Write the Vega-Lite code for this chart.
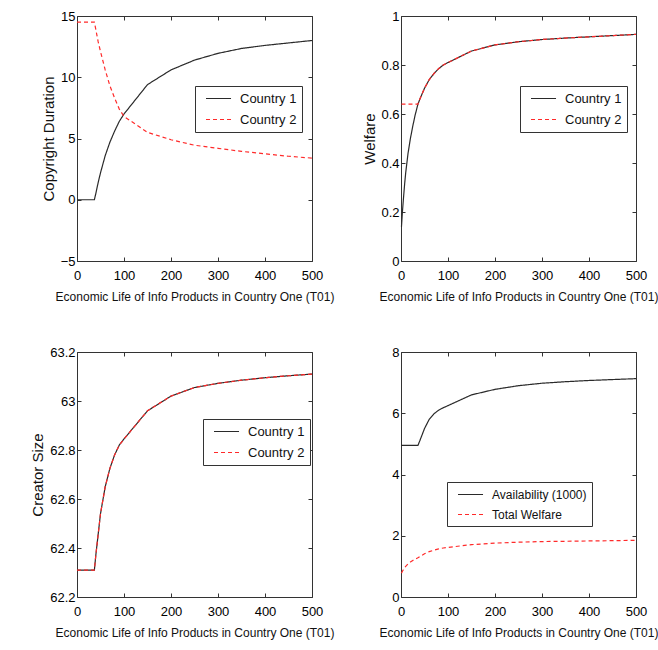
{
  "$schema": "https://vega.github.io/schema/vega-lite/v6.json",
  "background": "white",
  "padding": {"left": 30, "top": 9, "right": 5, "bottom": 5},
  "bounds": "flush",
  "config": {
    "font": "Liberation Sans",
    "view": {"stroke": "#333333", "strokeWidth": 1},
    "axis": {
      "grid": false,
      "domain": false,
      "tickSize": -4,
      "tickColor": "#333333",
      "labelFontSize": 13,
      "labelColor": "#000000",
      "titleFontSize": 15,
      "titleFontWeight": "normal",
      "titleColor": "#111111",
      "labelFlush": false,
      "labelOverlap": false
    },
    "axisX": {"titleFontSize": 12, "titlePadding": 9, "labelPadding": 12},
    "axisY": {"labelPadding": 6},
    "legend": {
      "orient": "none",
      "strokeColor": "#333333",
      "fillColor": "white",
      "padding": 5,
      "symbolType": "M-0.23,0H3.62",
      "symbolSize": 169,
      "symbolStrokeWidth": 1.4,
      "labelFontSize": 13,
      "labelColor": "#111111",
      "rowPadding": 6,
      "labelOffset": 25
    },
    "line": {"strokeWidth": 1.2}
  },
  "datasets": {
    "copyright": [
      {"T01": 0, "country": "Country 1", "value": 0},
      {"T01": 10, "country": "Country 1", "value": 0},
      {"T01": 20, "country": "Country 1", "value": 0},
      {"T01": 30, "country": "Country 1", "value": 0},
      {"T01": 37, "country": "Country 1", "value": 0},
      {"T01": 40, "country": "Country 1", "value": 0.5},
      {"T01": 45, "country": "Country 1", "value": 1.4},
      {"T01": 50, "country": "Country 1", "value": 2.2},
      {"T01": 60, "country": "Country 1", "value": 3.6},
      {"T01": 70, "country": "Country 1", "value": 4.7},
      {"T01": 80, "country": "Country 1", "value": 5.6},
      {"T01": 90, "country": "Country 1", "value": 6.4},
      {"T01": 100, "country": "Country 1", "value": 7.0},
      {"T01": 150, "country": "Country 1", "value": 9.4},
      {"T01": 200, "country": "Country 1", "value": 10.6},
      {"T01": 250, "country": "Country 1", "value": 11.4},
      {"T01": 300, "country": "Country 1", "value": 11.95},
      {"T01": 350, "country": "Country 1", "value": 12.35},
      {"T01": 400, "country": "Country 1", "value": 12.6},
      {"T01": 450, "country": "Country 1", "value": 12.8},
      {"T01": 500, "country": "Country 1", "value": 13.0},
      {"T01": 0, "country": "Country 2", "value": 14.5},
      {"T01": 10, "country": "Country 2", "value": 14.5},
      {"T01": 20, "country": "Country 2", "value": 14.5},
      {"T01": 30, "country": "Country 2", "value": 14.5},
      {"T01": 37, "country": "Country 2", "value": 14.5},
      {"T01": 40, "country": "Country 2", "value": 13.9},
      {"T01": 45, "country": "Country 2", "value": 12.9},
      {"T01": 50, "country": "Country 2", "value": 12.1},
      {"T01": 60, "country": "Country 2", "value": 10.6},
      {"T01": 70, "country": "Country 2", "value": 9.3},
      {"T01": 80, "country": "Country 2", "value": 8.3},
      {"T01": 90, "country": "Country 2", "value": 7.4},
      {"T01": 100, "country": "Country 2", "value": 6.8},
      {"T01": 150, "country": "Country 2", "value": 5.5},
      {"T01": 200, "country": "Country 2", "value": 4.9},
      {"T01": 250, "country": "Country 2", "value": 4.45},
      {"T01": 300, "country": "Country 2", "value": 4.2},
      {"T01": 350, "country": "Country 2", "value": 3.95},
      {"T01": 400, "country": "Country 2", "value": 3.75},
      {"T01": 450, "country": "Country 2", "value": 3.55},
      {"T01": 500, "country": "Country 2", "value": 3.4}
    ],
    "welfare": [
      {"T01": 1, "country": "Country 1", "value": 0.14},
      {"T01": 3, "country": "Country 1", "value": 0.2},
      {"T01": 5, "country": "Country 1", "value": 0.25},
      {"T01": 8, "country": "Country 1", "value": 0.32},
      {"T01": 10, "country": "Country 1", "value": 0.36},
      {"T01": 15, "country": "Country 1", "value": 0.44},
      {"T01": 20, "country": "Country 1", "value": 0.5},
      {"T01": 25, "country": "Country 1", "value": 0.55},
      {"T01": 30, "country": "Country 1", "value": 0.595},
      {"T01": 36, "country": "Country 1", "value": 0.64},
      {"T01": 40, "country": "Country 1", "value": 0.66},
      {"T01": 50, "country": "Country 1", "value": 0.705},
      {"T01": 60, "country": "Country 1", "value": 0.74},
      {"T01": 70, "country": "Country 1", "value": 0.765},
      {"T01": 80, "country": "Country 1", "value": 0.785},
      {"T01": 90, "country": "Country 1", "value": 0.8},
      {"T01": 100, "country": "Country 1", "value": 0.81},
      {"T01": 150, "country": "Country 1", "value": 0.857},
      {"T01": 200, "country": "Country 1", "value": 0.882},
      {"T01": 250, "country": "Country 1", "value": 0.895},
      {"T01": 300, "country": "Country 1", "value": 0.904},
      {"T01": 350, "country": "Country 1", "value": 0.91},
      {"T01": 400, "country": "Country 1", "value": 0.915},
      {"T01": 450, "country": "Country 1", "value": 0.92},
      {"T01": 500, "country": "Country 1", "value": 0.925},
      {"T01": 1, "country": "Country 2", "value": 0.64},
      {"T01": 10, "country": "Country 2", "value": 0.64},
      {"T01": 20, "country": "Country 2", "value": 0.64},
      {"T01": 30, "country": "Country 2", "value": 0.64},
      {"T01": 36, "country": "Country 2", "value": 0.64},
      {"T01": 40, "country": "Country 2", "value": 0.66},
      {"T01": 50, "country": "Country 2", "value": 0.705},
      {"T01": 60, "country": "Country 2", "value": 0.74},
      {"T01": 70, "country": "Country 2", "value": 0.765},
      {"T01": 80, "country": "Country 2", "value": 0.785},
      {"T01": 90, "country": "Country 2", "value": 0.8},
      {"T01": 100, "country": "Country 2", "value": 0.81},
      {"T01": 150, "country": "Country 2", "value": 0.857},
      {"T01": 200, "country": "Country 2", "value": 0.882},
      {"T01": 250, "country": "Country 2", "value": 0.895},
      {"T01": 300, "country": "Country 2", "value": 0.904},
      {"T01": 350, "country": "Country 2", "value": 0.91},
      {"T01": 400, "country": "Country 2", "value": 0.915},
      {"T01": 450, "country": "Country 2", "value": 0.92},
      {"T01": 500, "country": "Country 2", "value": 0.925}
    ],
    "creator": [
      {"T01": 0, "country": "Country 1", "value": 62.31},
      {"T01": 10, "country": "Country 1", "value": 62.31},
      {"T01": 20, "country": "Country 1", "value": 62.31},
      {"T01": 30, "country": "Country 1", "value": 62.31},
      {"T01": 37, "country": "Country 1", "value": 62.31},
      {"T01": 40, "country": "Country 1", "value": 62.37},
      {"T01": 50, "country": "Country 1", "value": 62.54},
      {"T01": 60, "country": "Country 1", "value": 62.65},
      {"T01": 70, "country": "Country 1", "value": 62.725},
      {"T01": 80, "country": "Country 1", "value": 62.78},
      {"T01": 90, "country": "Country 1", "value": 62.82},
      {"T01": 100, "country": "Country 1", "value": 62.845},
      {"T01": 150, "country": "Country 1", "value": 62.96},
      {"T01": 200, "country": "Country 1", "value": 63.02},
      {"T01": 250, "country": "Country 1", "value": 63.055},
      {"T01": 300, "country": "Country 1", "value": 63.072},
      {"T01": 350, "country": "Country 1", "value": 63.085},
      {"T01": 400, "country": "Country 1", "value": 63.095},
      {"T01": 450, "country": "Country 1", "value": 63.103},
      {"T01": 500, "country": "Country 1", "value": 63.11},
      {"T01": 0, "country": "Country 2", "value": 62.31},
      {"T01": 10, "country": "Country 2", "value": 62.31},
      {"T01": 20, "country": "Country 2", "value": 62.31},
      {"T01": 30, "country": "Country 2", "value": 62.31},
      {"T01": 37, "country": "Country 2", "value": 62.31},
      {"T01": 40, "country": "Country 2", "value": 62.37},
      {"T01": 50, "country": "Country 2", "value": 62.54},
      {"T01": 60, "country": "Country 2", "value": 62.65},
      {"T01": 70, "country": "Country 2", "value": 62.725},
      {"T01": 80, "country": "Country 2", "value": 62.78},
      {"T01": 90, "country": "Country 2", "value": 62.82},
      {"T01": 100, "country": "Country 2", "value": 62.845},
      {"T01": 150, "country": "Country 2", "value": 62.96},
      {"T01": 200, "country": "Country 2", "value": 63.02},
      {"T01": 250, "country": "Country 2", "value": 63.055},
      {"T01": 300, "country": "Country 2", "value": 63.072},
      {"T01": 350, "country": "Country 2", "value": 63.085},
      {"T01": 400, "country": "Country 2", "value": 63.095},
      {"T01": 450, "country": "Country 2", "value": 63.103},
      {"T01": 500, "country": "Country 2", "value": 63.11}
    ],
    "totals": [
      {"T01": 0, "series": "Availability (1000)", "value": 4.95},
      {"T01": 10, "series": "Availability (1000)", "value": 4.95},
      {"T01": 20, "series": "Availability (1000)", "value": 4.95},
      {"T01": 30, "series": "Availability (1000)", "value": 4.95},
      {"T01": 36, "series": "Availability (1000)", "value": 4.95},
      {"T01": 40, "series": "Availability (1000)", "value": 5.1},
      {"T01": 50, "series": "Availability (1000)", "value": 5.5},
      {"T01": 60, "series": "Availability (1000)", "value": 5.8},
      {"T01": 70, "series": "Availability (1000)", "value": 5.98},
      {"T01": 80, "series": "Availability (1000)", "value": 6.1},
      {"T01": 90, "series": "Availability (1000)", "value": 6.18},
      {"T01": 100, "series": "Availability (1000)", "value": 6.25},
      {"T01": 150, "series": "Availability (1000)", "value": 6.6},
      {"T01": 200, "series": "Availability (1000)", "value": 6.78},
      {"T01": 250, "series": "Availability (1000)", "value": 6.9},
      {"T01": 300, "series": "Availability (1000)", "value": 6.98},
      {"T01": 350, "series": "Availability (1000)", "value": 7.03},
      {"T01": 400, "series": "Availability (1000)", "value": 7.07},
      {"T01": 450, "series": "Availability (1000)", "value": 7.1},
      {"T01": 500, "series": "Availability (1000)", "value": 7.13},
      {"T01": 1, "series": "Total Welfare", "value": 0.78},
      {"T01": 3, "series": "Total Welfare", "value": 0.84},
      {"T01": 5, "series": "Total Welfare", "value": 0.89},
      {"T01": 8, "series": "Total Welfare", "value": 0.96},
      {"T01": 10, "series": "Total Welfare", "value": 1.0},
      {"T01": 15, "series": "Total Welfare", "value": 1.08},
      {"T01": 20, "series": "Total Welfare", "value": 1.14},
      {"T01": 25, "series": "Total Welfare", "value": 1.19},
      {"T01": 30, "series": "Total Welfare", "value": 1.235},
      {"T01": 36, "series": "Total Welfare", "value": 1.28},
      {"T01": 40, "series": "Total Welfare", "value": 1.32},
      {"T01": 50, "series": "Total Welfare", "value": 1.41},
      {"T01": 60, "series": "Total Welfare", "value": 1.48},
      {"T01": 70, "series": "Total Welfare", "value": 1.53},
      {"T01": 80, "series": "Total Welfare", "value": 1.57},
      {"T01": 90, "series": "Total Welfare", "value": 1.6},
      {"T01": 100, "series": "Total Welfare", "value": 1.62},
      {"T01": 150, "series": "Total Welfare", "value": 1.71},
      {"T01": 200, "series": "Total Welfare", "value": 1.76},
      {"T01": 250, "series": "Total Welfare", "value": 1.79},
      {"T01": 300, "series": "Total Welfare", "value": 1.81},
      {"T01": 350, "series": "Total Welfare", "value": 1.82},
      {"T01": 400, "series": "Total Welfare", "value": 1.83},
      {"T01": 450, "series": "Total Welfare", "value": 1.84},
      {"T01": 500, "series": "Total Welfare", "value": 1.85}
    ]
  },
  "columns": 2,
  "spacing": {"column": 89, "row": 91},
  "resolve": {
    "scale": {"color": "independent", "strokeDash": "independent"},
    "legend": {"color": "independent", "strokeDash": "independent"}
  },
  "concat": [
    {
      "width": 235,
      "height": 245,
      "data": {"name": "copyright"},
      "layer": [
        {
          "mark": {"type": "line"},
          "encoding": {
            "x": {"field": "T01", "type": "quantitative", "scale": {"domain": [0, 500], "nice": false}, "axis": {"title": "Economic Life of Info Products in Country One (T01)", "values": [0, 100, 200, 300, 400, 500]}},
            "y": {"field": "value", "type": "quantitative", "scale": {"domain": [-5, 15], "nice": false, "zero": false}, "axis": {"title": "Copyright Duration", "values": [-5, 0, 5, 10, 15], "titlePadding": 4}},
            "color": {"field": "country", "type": "nominal", "scale": {"domain": ["Country 1", "Country 2"], "range": ["#2a2a2a", "#ff2a2a"]}, "legend": {"title": null, "legendX": 118, "legendY": 70, "encode": {"symbols": {"update": {"stroke": {"signal": "datum.label === 'Country 2' ? '#ff2a2a' : '#2a2a2a'"}, "strokeDash": {"signal": "datum.label === 'Country 2' ? [4, 3] : [1, 0]"}}}}}},
            "strokeDash": {"field": "country", "type": "nominal", "scale": {"domain": ["Country 1", "Country 2"], "range": [[1, 0], [4, 3]]}, "legend": null}
          }
        },
        {
          "mark": {"type": "line", "opacity": 0},
          "encoding": {
            "x": {"field": "T01", "type": "quantitative", "axis": {"orient": "top", "labels": false, "title": null, "values": [0, 100, 200, 300, 400, 500]}},
            "y": {"field": "value", "type": "quantitative", "axis": {"orient": "right", "labels": false, "title": null, "values": [-5, 0, 5, 10, 15]}},
            "detail": {"field": "country"}
          }
        }
      ],
      "resolve": {"axis": {"x": "independent", "y": "independent"}}
    },
    {
      "width": 235,
      "height": 245,
      "data": {"name": "welfare"},
      "layer": [
        {
          "mark": {"type": "line"},
          "encoding": {
            "x": {"field": "T01", "type": "quantitative", "scale": {"domain": [0, 500], "nice": false}, "axis": {"title": "Economic Life of Info Products in Country One (T01)", "values": [0, 100, 200, 300, 400, 500]}},
            "y": {"field": "value", "type": "quantitative", "scale": {"domain": [0, 1], "nice": false}, "axis": {"title": "Welfare", "values": [0, 0.2, 0.4, 0.6, 0.8, 1], "format": "~g", "titlePadding": 3}},
            "color": {"field": "country", "type": "nominal", "scale": {"domain": ["Country 1", "Country 2"], "range": ["#2a2a2a", "#ff2a2a"]}, "legend": {"title": null, "legendX": 119, "legendY": 70, "encode": {"symbols": {"update": {"stroke": {"signal": "datum.label === 'Country 2' ? '#ff2a2a' : '#2a2a2a'"}, "strokeDash": {"signal": "datum.label === 'Country 2' ? [4, 3] : [1, 0]"}}}}}},
            "strokeDash": {"field": "country", "type": "nominal", "scale": {"domain": ["Country 1", "Country 2"], "range": [[1, 0], [4, 3]]}, "legend": null}
          }
        },
        {
          "mark": {"type": "line", "opacity": 0},
          "encoding": {
            "x": {"field": "T01", "type": "quantitative", "axis": {"orient": "top", "labels": false, "title": null, "values": [0, 100, 200, 300, 400, 500]}},
            "y": {"field": "value", "type": "quantitative", "axis": {"orient": "right", "labels": false, "title": null, "values": [0, 0.2, 0.4, 0.6, 0.8, 1]}},
            "detail": {"field": "country"}
          }
        }
      ],
      "resolve": {"axis": {"x": "independent", "y": "independent"}}
    },
    {
      "width": 235,
      "height": 245,
      "data": {"name": "creator"},
      "layer": [
        {
          "mark": {"type": "line"},
          "encoding": {
            "x": {"field": "T01", "type": "quantitative", "scale": {"domain": [0, 500], "nice": false}, "axis": {"title": "Economic Life of Info Products in Country One (T01)", "values": [0, 100, 200, 300, 400, 500]}},
            "y": {"field": "value", "type": "quantitative", "scale": {"domain": [62.2, 63.2], "nice": false, "zero": false}, "axis": {"title": "Creator Size", "values": [62.2, 62.4, 62.6, 62.8, 63, 63.2], "format": "~g", "titlePadding": 4}},
            "color": {"field": "country", "type": "nominal", "scale": {"domain": ["Country 1", "Country 2"], "range": ["#2a2a2a", "#ff2a2a"]}, "legend": {"title": null, "legendX": 126, "legendY": 67, "encode": {"symbols": {"update": {"stroke": {"signal": "datum.label === 'Country 2' ? '#ff2a2a' : '#2a2a2a'"}, "strokeDash": {"signal": "datum.label === 'Country 2' ? [4, 3] : [1, 0]"}}}}}},
            "strokeDash": {"field": "country", "type": "nominal", "scale": {"domain": ["Country 1", "Country 2"], "range": [[1, 0], [4, 3]]}, "legend": null}
          }
        },
        {
          "mark": {"type": "line", "opacity": 0},
          "encoding": {
            "x": {"field": "T01", "type": "quantitative", "axis": {"orient": "top", "labels": false, "title": null, "values": [0, 100, 200, 300, 400, 500]}},
            "y": {"field": "value", "type": "quantitative", "axis": {"orient": "right", "labels": false, "title": null, "values": [62.2, 62.4, 62.6, 62.8, 63, 63.2]}},
            "detail": {"field": "country"}
          }
        }
      ],
      "resolve": {"axis": {"x": "independent", "y": "independent"}}
    },
    {
      "width": 235,
      "height": 245,
      "data": {"name": "totals"},
      "layer": [
        {
          "mark": {"type": "line"},
          "encoding": {
            "x": {"field": "T01", "type": "quantitative", "scale": {"domain": [0, 500], "nice": false}, "axis": {"title": "Economic Life of Info Products in Country One (T01)", "values": [0, 100, 200, 300, 400, 500]}},
            "y": {"field": "value", "type": "quantitative", "scale": {"domain": [0, 8], "nice": false}, "axis": {"title": null, "values": [0, 2, 4, 6, 8]}},
            "color": {"field": "series", "type": "nominal", "scale": {"domain": ["Availability (1000)", "Total Welfare"], "range": ["#2a2a2a", "#ff2a2a"]}, "legend": {"title": null, "legendX": 46, "legendY": 130, "labelFontSize": 12, "encode": {"symbols": {"update": {"stroke": {"signal": "datum.label === 'Total Welfare' ? '#ff2a2a' : '#2a2a2a'"}, "strokeDash": {"signal": "datum.label === 'Total Welfare' ? [4, 3] : [1, 0]"}}}}}},
            "strokeDash": {"field": "series", "type": "nominal", "scale": {"domain": ["Availability (1000)", "Total Welfare"], "range": [[1, 0], [4, 3]]}, "legend": null}
          }
        },
        {
          "mark": {"type": "line", "opacity": 0},
          "encoding": {
            "x": {"field": "T01", "type": "quantitative", "axis": {"orient": "top", "labels": false, "title": null, "values": [0, 100, 200, 300, 400, 500]}},
            "y": {"field": "value", "type": "quantitative", "axis": {"orient": "right", "labels": false, "title": null, "values": [0, 2, 4, 6, 8]}},
            "detail": {"field": "series"}
          }
        }
      ],
      "resolve": {"axis": {"x": "independent", "y": "independent"}}
    }
  ]
}
